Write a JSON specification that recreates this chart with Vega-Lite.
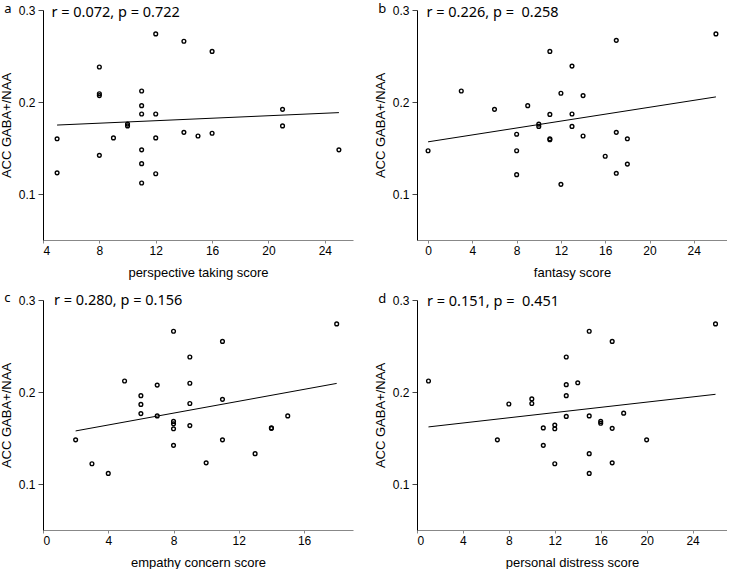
{
  "$schema": "https://vega.github.io/schema/vega-lite/v6.json",
  "padding": {"left": 0, "top": 3, "right": 0, "bottom": 0},
  "background": "white",
  "config": {
    "view": {"stroke": null},
    "axis": {"grid": false, "labelFont": "Liberation Sans", "labelFontSize": 12, "labelColor": "black", "titleFont": "Liberation Sans", "titleFontSize": 13, "titleFontWeight": "normal", "titleColor": "black"},
    "axisX": {"domainColor": "#888888", "tickColor": "#888888", "tickSize": 3, "labelPadding": 2, "titlePadding": 10},
    "axisY": {"domainColor": "black", "tickColor": "#444444", "tickSize": 5, "labelPadding": 3, "titlePadding": 5},
    "title": {"anchor": "start", "frame": "bounds", "offset": -12, "fontSize": 13, "fontWeight": "normal", "font": "Noto Sans", "color": "black", "dx": 4},
    "point": {"shape": "circle", "filled": false, "color": "black", "size": 14, "strokeWidth": 1.4, "opacity": 1},
    "line": {"color": "black", "strokeWidth": 1}
  },
  "datasets": {
    "scores": [
    {"panel": "a", "score": 12, "gaba": 0.274}, {"panel": "a", "score": 14, "gaba": 0.266}, {"panel": "a", "score": 16, "gaba": 0.255},
    {"panel": "a", "score": 8, "gaba": 0.238}, {"panel": "a", "score": 8, "gaba": 0.209}, {"panel": "a", "score": 8, "gaba": 0.207},
    {"panel": "a", "score": 11, "gaba": 0.212}, {"panel": "a", "score": 11, "gaba": 0.196}, {"panel": "a", "score": 11, "gaba": 0.187},
    {"panel": "a", "score": 12, "gaba": 0.187}, {"panel": "a", "score": 21, "gaba": 0.192}, {"panel": "a", "score": 21, "gaba": 0.174},
    {"panel": "a", "score": 10, "gaba": 0.176}, {"panel": "a", "score": 10, "gaba": 0.174}, {"panel": "a", "score": 14, "gaba": 0.167},
    {"panel": "a", "score": 15, "gaba": 0.163}, {"panel": "a", "score": 16, "gaba": 0.166}, {"panel": "a", "score": 9, "gaba": 0.161},
    {"panel": "a", "score": 12, "gaba": 0.161}, {"panel": "a", "score": 5, "gaba": 0.16}, {"panel": "a", "score": 11, "gaba": 0.148},
    {"panel": "a", "score": 25, "gaba": 0.148}, {"panel": "a", "score": 8, "gaba": 0.142}, {"panel": "a", "score": 11, "gaba": 0.133},
    {"panel": "a", "score": 5, "gaba": 0.123}, {"panel": "a", "score": 12, "gaba": 0.122}, {"panel": "a", "score": 11, "gaba": 0.112},

    {"panel": "b", "score": 26, "gaba": 0.274}, {"panel": "b", "score": 17, "gaba": 0.267}, {"panel": "b", "score": 11, "gaba": 0.255},
    {"panel": "b", "score": 13, "gaba": 0.239}, {"panel": "b", "score": 3, "gaba": 0.212}, {"panel": "b", "score": 12, "gaba": 0.2095},
    {"panel": "b", "score": 14, "gaba": 0.207}, {"panel": "b", "score": 9, "gaba": 0.196}, {"panel": "b", "score": 6, "gaba": 0.192},
    {"panel": "b", "score": 11, "gaba": 0.1865}, {"panel": "b", "score": 13, "gaba": 0.187}, {"panel": "b", "score": 10, "gaba": 0.176},
    {"panel": "b", "score": 10, "gaba": 0.1735}, {"panel": "b", "score": 13, "gaba": 0.1735}, {"panel": "b", "score": 8, "gaba": 0.165},
    {"panel": "b", "score": 17, "gaba": 0.167}, {"panel": "b", "score": 14, "gaba": 0.163}, {"panel": "b", "score": 11, "gaba": 0.16},
    {"panel": "b", "score": 11, "gaba": 0.159}, {"panel": "b", "score": 18, "gaba": 0.16}, {"panel": "b", "score": 0, "gaba": 0.147},
    {"panel": "b", "score": 8, "gaba": 0.147}, {"panel": "b", "score": 16, "gaba": 0.141}, {"panel": "b", "score": 18, "gaba": 0.1325},
    {"panel": "b", "score": 8, "gaba": 0.121}, {"panel": "b", "score": 17, "gaba": 0.1225}, {"panel": "b", "score": 12, "gaba": 0.1105},

    {"panel": "c", "score": 18, "gaba": 0.274}, {"panel": "c", "score": 8, "gaba": 0.266}, {"panel": "c", "score": 11, "gaba": 0.255},
    {"panel": "c", "score": 9, "gaba": 0.238}, {"panel": "c", "score": 5, "gaba": 0.212}, {"panel": "c", "score": 9, "gaba": 0.2095},
    {"panel": "c", "score": 7, "gaba": 0.2075}, {"panel": "c", "score": 6, "gaba": 0.196}, {"panel": "c", "score": 11, "gaba": 0.192},
    {"panel": "c", "score": 6, "gaba": 0.1865}, {"panel": "c", "score": 9, "gaba": 0.1875}, {"panel": "c", "score": 6, "gaba": 0.1765},
    {"panel": "c", "score": 7, "gaba": 0.174}, {"panel": "c", "score": 15, "gaba": 0.174}, {"panel": "c", "score": 8, "gaba": 0.168},
    {"panel": "c", "score": 8, "gaba": 0.1655}, {"panel": "c", "score": 9, "gaba": 0.1635}, {"panel": "c", "score": 14, "gaba": 0.161},
    {"panel": "c", "score": 8, "gaba": 0.16}, {"panel": "c", "score": 14, "gaba": 0.1605}, {"panel": "c", "score": 2, "gaba": 0.148},
    {"panel": "c", "score": 11, "gaba": 0.148}, {"panel": "c", "score": 8, "gaba": 0.142}, {"panel": "c", "score": 13, "gaba": 0.133},
    {"panel": "c", "score": 10, "gaba": 0.123}, {"panel": "c", "score": 3, "gaba": 0.122}, {"panel": "c", "score": 4, "gaba": 0.1115},

    {"panel": "d", "score": 26, "gaba": 0.274}, {"panel": "d", "score": 15, "gaba": 0.266}, {"panel": "d", "score": 17, "gaba": 0.255},
    {"panel": "d", "score": 13, "gaba": 0.238}, {"panel": "d", "score": 1, "gaba": 0.212}, {"panel": "d", "score": 14, "gaba": 0.21},
    {"panel": "d", "score": 13, "gaba": 0.208}, {"panel": "d", "score": 13, "gaba": 0.196}, {"panel": "d", "score": 10, "gaba": 0.1925},
    {"panel": "d", "score": 10, "gaba": 0.1875}, {"panel": "d", "score": 8, "gaba": 0.187}, {"panel": "d", "score": 18, "gaba": 0.177},
    {"panel": "d", "score": 13, "gaba": 0.1735}, {"panel": "d", "score": 15, "gaba": 0.174}, {"panel": "d", "score": 16, "gaba": 0.168},
    {"panel": "d", "score": 16, "gaba": 0.166}, {"panel": "d", "score": 11, "gaba": 0.161}, {"panel": "d", "score": 12, "gaba": 0.164},
    {"panel": "d", "score": 12, "gaba": 0.16}, {"panel": "d", "score": 17, "gaba": 0.1605}, {"panel": "d", "score": 7, "gaba": 0.148},
    {"panel": "d", "score": 20, "gaba": 0.148}, {"panel": "d", "score": 11, "gaba": 0.142}, {"panel": "d", "score": 15, "gaba": 0.133},
    {"panel": "d", "score": 17, "gaba": 0.123}, {"panel": "d", "score": 12, "gaba": 0.122}, {"panel": "d", "score": 15, "gaba": 0.1115}
    ],
    "stats": [
      {"panel": "a", "label": "r = 0.072, p = 0.722"},
      {"panel": "b", "label": "r = 0.226, p = \u00a00.258"},
      {"panel": "c", "label": "r = 0.280, p = 0.156"},
      {"panel": "d", "label": "r = 0.151, p = \u00a00.451"}
    ]
  },
  "columns": 2,
  "spacing": {"column": 21, "row": 13},
  "concat": [
    {
      "width": 310, "height": 230,
      "title": {"text": "a"},
      "layer": [
        {"data": {"name": "scores"}, "transform": [{"filter": "datum.panel === 'a'"}], "mark": "point",
         "encoding": {
           "x": {"field": "score", "type": "quantitative", "scale": {"domain": [4, 26], "nice": false, "zero": false}, "axis": {"values": [4, 8, 12, 16, 20, 24], "title": "perspective taking score"}},
           "y": {"field": "gaba", "type": "quantitative", "scale": {"domain": [0.05, 0.3], "nice": false, "zero": false}, "axis": {"values": [0.1, 0.2, 0.3], "format": ".1f", "title": "ACC GABA+/NAA"}}
         }},
        {"data": {"name": "scores"}, "transform": [{"filter": "datum.panel === 'a'"}, {"regression": "gaba", "on": "score"}], "mark": "line",
         "encoding": {"x": {"field": "score", "type": "quantitative"}, "y": {"field": "gaba", "type": "quantitative"}}},
        {"data": {"name": "stats"}, "transform": [{"filter": "datum.panel === 'a'"}],
         "mark": {"type": "text", "font": "Noto Sans", "fontSize": 14.5, "align": "left", "baseline": "middle", "color": "black"},
         "encoding": {"x": {"datum": 4.6, "type": "quantitative"}, "y": {"datum": 0.2965, "type": "quantitative"}, "text": {"field": "label", "type": "nominal"}}}
      ]
    },
    {
      "width": 310, "height": 230,
      "title": {"text": "b"},
      "layer": [
        {"data": {"name": "scores"}, "transform": [{"filter": "datum.panel === 'b'"}], "mark": "point",
         "encoding": {
           "x": {"field": "score", "type": "quantitative", "scale": {"domain": [-1, 27], "nice": false, "zero": false}, "axis": {"values": [0, 4, 8, 12, 16, 20, 24], "title": "fantasy score"}},
           "y": {"field": "gaba", "type": "quantitative", "scale": {"domain": [0.05, 0.3], "nice": false, "zero": false}, "axis": {"values": [0.1, 0.2, 0.3], "format": ".1f", "title": "ACC GABA+/NAA"}}
         }},
        {"data": {"name": "scores"}, "transform": [{"filter": "datum.panel === 'b'"}, {"regression": "gaba", "on": "score"}], "mark": "line",
         "encoding": {"x": {"field": "score", "type": "quantitative"}, "y": {"field": "gaba", "type": "quantitative"}}},
        {"data": {"name": "stats"}, "transform": [{"filter": "datum.panel === 'b'"}],
         "mark": {"type": "text", "font": "Noto Sans", "fontSize": 14.5, "align": "left", "baseline": "middle", "color": "black"},
         "encoding": {"x": {"datum": -0.15, "type": "quantitative"}, "y": {"datum": 0.2965, "type": "quantitative"}, "text": {"field": "label", "type": "nominal"}}}
      ]
    },
    {
      "width": 310, "height": 230,
      "title": {"text": "c"},
      "layer": [
        {"data": {"name": "scores"}, "transform": [{"filter": "datum.panel === 'c'"}], "mark": "point",
         "encoding": {
           "x": {"field": "score", "type": "quantitative", "scale": {"domain": [0, 19], "nice": false, "zero": false}, "axis": {"values": [0, 4, 8, 12, 16], "title": "empathy concern score"}},
           "y": {"field": "gaba", "type": "quantitative", "scale": {"domain": [0.05, 0.3], "nice": false, "zero": false}, "axis": {"values": [0.1, 0.2, 0.3], "format": ".1f", "title": "ACC GABA+/NAA"}}
         }},
        {"data": {"name": "scores"}, "transform": [{"filter": "datum.panel === 'c'"}, {"regression": "gaba", "on": "score"}], "mark": "line",
         "encoding": {"x": {"field": "score", "type": "quantitative"}, "y": {"field": "gaba", "type": "quantitative"}}},
        {"data": {"name": "stats"}, "transform": [{"filter": "datum.panel === 'c'"}],
         "mark": {"type": "text", "font": "Noto Sans", "fontSize": 14.5, "align": "left", "baseline": "middle", "color": "black"},
         "encoding": {"x": {"datum": 0.67, "type": "quantitative"}, "y": {"datum": 0.2985, "type": "quantitative"}, "text": {"field": "label", "type": "nominal"}}}
      ]
    },
    {
      "width": 310, "height": 230,
      "title": {"text": "d"},
      "layer": [
        {"data": {"name": "scores"}, "transform": [{"filter": "datum.panel === 'd'"}], "mark": "point",
         "encoding": {
           "x": {"field": "score", "type": "quantitative", "scale": {"domain": [0, 27], "nice": false, "zero": false}, "axis": {"values": [0, 4, 8, 12, 16, 20, 24], "title": "personal distress score"}},
           "y": {"field": "gaba", "type": "quantitative", "scale": {"domain": [0.05, 0.3], "nice": false, "zero": false}, "axis": {"values": [0.1, 0.2, 0.3], "format": ".1f", "title": "ACC GABA+/NAA"}}
         }},
        {"data": {"name": "scores"}, "transform": [{"filter": "datum.panel === 'd'"}, {"regression": "gaba", "on": "score"}], "mark": "line",
         "encoding": {"x": {"field": "score", "type": "quantitative"}, "y": {"field": "gaba", "type": "quantitative"}}},
        {"data": {"name": "stats"}, "transform": [{"filter": "datum.panel === 'd'"}],
         "mark": {"type": "text", "font": "Noto Sans", "fontSize": 14.5, "align": "left", "baseline": "middle", "color": "black"},
         "encoding": {"x": {"datum": 0.87, "type": "quantitative"}, "y": {"datum": 0.2975, "type": "quantitative"}, "text": {"field": "label", "type": "nominal"}}}
      ]
    }
  ]
}
